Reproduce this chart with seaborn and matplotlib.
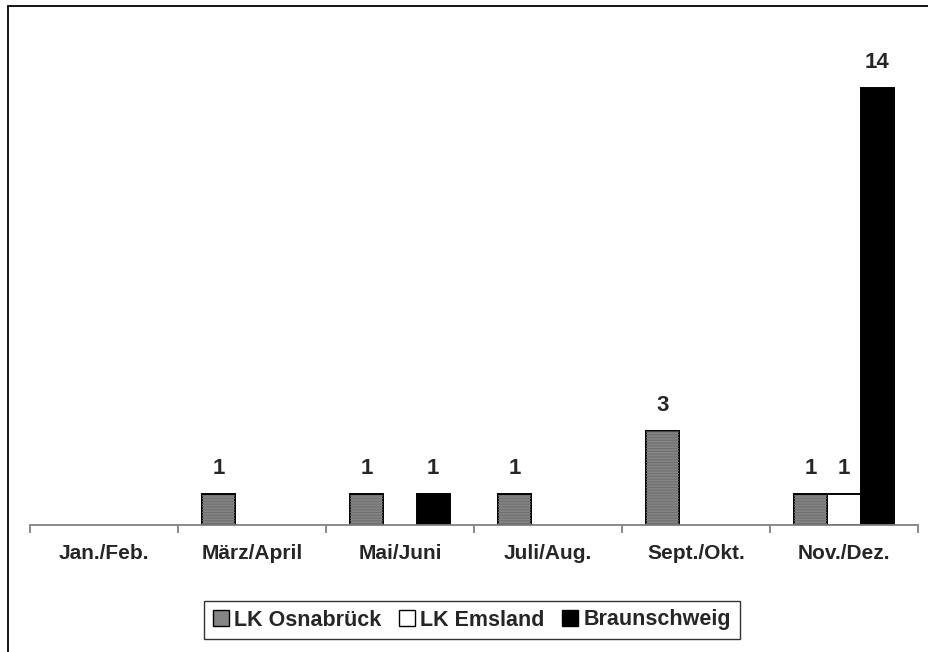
import matplotlib
matplotlib.use("Agg")
import matplotlib.pyplot as plt
from matplotlib.patches import Rectangle, Patch
import seaborn as sns
import pandas as pd

periods = ["Jan./Feb.", "März/April", "Mai/Juni", "Juli/Aug.", "Sept./Okt.", "Nov./Dez."]
regions = ["LK Osnabrück", "LK Emsland", "Braunschweig"]
osnabrueck = [0, 1, 1, 1, 3, 1]
emsland = [0, 0, 0, 0, 0, 1]
braunschweig = [0, 0, 1, 0, 0, 14]
colors = ["#858585", "#ffffff", "#000000"]

rows = []
for region, vals in zip(regions, [osnabrueck, emsland, braunschweig]):
    for p, v in zip(periods, vals):
        if v > 0:
            rows.append({"Zeitraum": p, "Region": region, "Anzahl": v})
df = pd.DataFrame(rows)

sns.set_theme(style="white")
plt.rcParams["font.family"] = ["Liberation Sans", "DejaVu Sans"]
plt.rcParams["font.weight"] = "bold"
plt.rcParams["hatch.linewidth"] = 0.8

fig = plt.figure(figsize=(9.29, 6.52), dpi=100)
ax = fig.add_axes([30 / 929, 1 - 525 / 652, 888 / 929, 499 / 652])

sns.barplot(data=df, x="Zeitraum", y="Anzahl", hue="Region", order=periods,
            hue_order=regions, palette=colors, width=0.67, gap=0,
            edgecolor="black", linewidth=1.4, saturation=1, errorbar=None,
            legend=False, ax=ax)


def add_texture(rect, axis):
    # faint horizontal line texture over a grey patch
    over = Rectangle(rect.get_xy(), rect.get_width(), rect.get_height(),
                     transform=axis.transData, fill=False, hatch="------",
                     edgecolor="#6f6f6f", linewidth=0, zorder=rect.get_zorder() + 0.1)
    axis.add_patch(over)


for bar in ax.containers[0]:
    add_texture(bar, ax)

for cont in ax.containers:
    ax.bar_label(cont, fmt="%d", padding=11, fontsize=16, fontweight="bold")

ax.set_xlim(-0.5, 5.5)
ax.set_ylim(0, 16)
ax.set_xlabel("")
ax.set_ylabel("")
ax.set_yticks([])
for s in ["top", "right", "left"]:
    ax.spines[s].set_visible(False)
ax.spines["bottom"].set_color("#808080")
ax.spines["bottom"].set_linewidth(1.3)
ax.tick_params(axis="x", which="major", length=0, pad=14, labelsize=15)
ax.set_xticks([i - 0.5 for i in range(len(periods) + 1)], minor=True)
ax.tick_params(axis="x", which="minor", length=6, width=1.3, color="#808080",
               bottom=True)
for lab in ax.get_xticklabels():
    lab.set_fontweight("bold")

handles = [Patch(facecolor=c, edgecolor="black", linewidth=1.0) for c in colors]
leg = fig.legend(handles, regions, loc="center", bbox_to_anchor=(472 / 929, 1 - 620 / 652),
                 ncol=3, frameon=True, fancybox=False, edgecolor="black",
                 prop={"weight": "bold", "size": 15.5}, handlelength=0.75,
                 handleheight=0.75, handletextpad=0.25, columnspacing=0.8,
                 borderpad=0.4)
leg.get_frame().set_linewidth(1.0)

fig.patches.append(Rectangle((8 / 929, -0.1), 1.2, 1 - 6 / 652 + 0.1,
                             transform=fig.transFigure, fill=False,
                             edgecolor="black", linewidth=1.3))

fig.savefig("out.png", dpi=100, facecolor="white")
